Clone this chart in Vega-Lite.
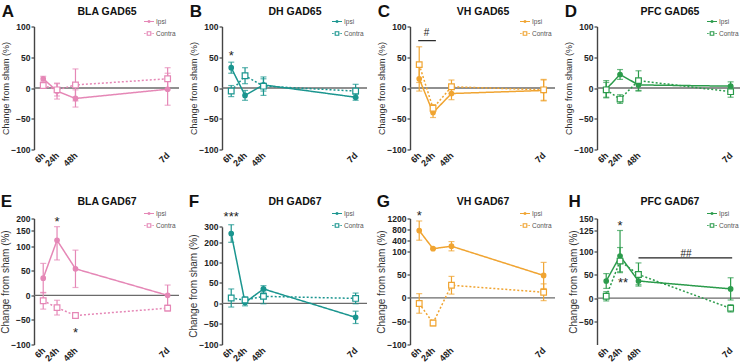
{
"$schema": "https://vega.github.io/schema/vega-lite/v6.json",
"background": "white",
"padding": {"left": 0, "top": 2.5, "right": 0, "bottom": 0},
"config": {
  "font": "Liberation Sans",
  "view": {"stroke": null},
  "title": {"font": "Liberation Sans", "color": "#111"},
  "axis": {"labelFont": "Liberation Sans", "labelFontWeight": "bold", "labelFontSize": 8.5, "labelColor": "#222", "grid": false, "domainColor": "#444", "tickColor": "#444", "domainWidth": 1.4, "tickWidth": 1.2, "tickSize": 3, "labelPadding": 1, "titleFont": "Liberation Sans", "titleFontWeight": "normal", "titleColor": "#333", "titlePadding": 0},
  "legend": {"labelFont": "Liberation Sans"}
},
"datasets": {
  "gad": [
    {"p":"A","s":"Ipsi","t":6,"m":15,"e":4},{"p":"A","s":"Ipsi","t":24,"m":-5,"e":13},{"p":"A","s":"Ipsi","t":48,"m":-17,"e":14},{"p":"A","s":"Ipsi","t":168,"m":-2,"e":26},
    {"p":"A","s":"Contra","t":6,"m":4,"e":3},{"p":"A","s":"Contra","t":24,"m":-3,"e":10},{"p":"A","s":"Contra","t":48,"m":5,"e":26},{"p":"A","s":"Contra","t":168,"m":15,"e":18},
    {"p":"B","s":"Ipsi","t":6,"m":33,"e":9},{"p":"B","s":"Ipsi","t":24,"m":-12,"e":8},{"p":"B","s":"Ipsi","t":48,"m":5,"e":10},{"p":"B","s":"Ipsi","t":168,"m":-15,"e":5},
    {"p":"B","s":"Contra","t":6,"m":-5,"e":9},{"p":"B","s":"Contra","t":24,"m":20,"e":13},{"p":"B","s":"Contra","t":48,"m":3,"e":15},{"p":"B","s":"Contra","t":168,"m":-5,"e":11},
    {"p":"C","s":"Ipsi","t":6,"m":15,"e":20},{"p":"C","s":"Ipsi","t":24,"m":-40,"e":8},{"p":"C","s":"Ipsi","t":48,"m":-9,"e":10},{"p":"C","s":"Ipsi","t":168,"m":-4,"e":17},
    {"p":"C","s":"Contra","t":6,"m":38,"e":29},{"p":"C","s":"Contra","t":24,"m":-33,"e":6},{"p":"C","s":"Contra","t":48,"m":2,"e":11},{"p":"C","s":"Contra","t":168,"m":-3,"e":17},
    {"p":"D","s":"Ipsi","t":6,"m":-2,"e":14},{"p":"D","s":"Ipsi","t":24,"m":22,"e":8},{"p":"D","s":"Ipsi","t":48,"m":5,"e":10},{"p":"D","s":"Ipsi","t":168,"m":3,"e":7},
    {"p":"D","s":"Contra","t":6,"m":-3,"e":12},{"p":"D","s":"Contra","t":24,"m":-18,"e":7},{"p":"D","s":"Contra","t":48,"m":12,"e":16},{"p":"D","s":"Contra","t":168,"m":-6,"e":9},
    {"p":"E","s":"Ipsi","t":6,"m":35,"e":30},{"p":"E","s":"Ipsi","t":24,"m":119,"e":47},{"p":"E","s":"Ipsi","t":48,"m":54,"e":38},{"p":"E","s":"Ipsi","t":168,"m":0,"e":21},
    {"p":"E","s":"Contra","t":6,"m":-11,"e":17},{"p":"E","s":"Contra","t":24,"m":-25,"e":15},{"p":"E","s":"Contra","t":48,"m":-41,"e":4},{"p":"E","s":"Contra","t":168,"m":-26,"e":6},
    {"p":"F","s":"Ipsi","t":6,"m":258,"e":55},{"p":"F","s":"Ipsi","t":24,"m":2,"e":8},{"p":"F","s":"Ipsi","t":48,"m":35,"e":8},{"p":"F","s":"Ipsi","t":168,"m":-34,"e":15},
    {"p":"F","s":"Contra","t":6,"m":13,"e":22},{"p":"F","s":"Contra","t":24,"m":8,"e":8},{"p":"F","s":"Contra","t":48,"m":17,"e":18},{"p":"F","s":"Contra","t":168,"m":12,"e":13},
    {"p":"G","s":"Ipsi","t":6,"m":760,"e":350},{"p":"G","s":"Ipsi","t":24,"m":170,"e":15},{"p":"G","s":"Ipsi","t":48,"m":240,"e":130},{"p":"G","s":"Ipsi","t":168,"m":48,"e":28},
    {"p":"G","s":"Contra","t":6,"m":-12,"e":21},{"p":"G","s":"Contra","t":24,"m":-54,"e":6},{"p":"G","s":"Contra","t":48,"m":27,"e":19},{"p":"G","s":"Contra","t":168,"m":12,"e":18},
    {"p":"H","s":"Ipsi","t":6,"m":37,"e":16},{"p":"H","s":"Ipsi","t":24,"m":91,"e":34},{"p":"H","s":"Ipsi","t":48,"m":37,"e":8},{"p":"H","s":"Ipsi","t":168,"m":20,"e":24},
    {"p":"H","s":"Contra","t":6,"m":4,"e":10},{"p":"H","s":"Contra","t":24,"m":80,"e":25},{"p":"H","s":"Contra","t":48,"m":51,"e":25},{"p":"H","s":"Contra","t":168,"m":-22,"e":8}
  ],
  "ann": [
    {"p":"B","t":6,"m":57,"label":"*"},
    {"p":"C","t":15.6,"m":89,"label":"#"},
    {"p":"E","t":24,"m":196,"label":"*"},
    {"p":"E","t":48,"m":-70,"label":"*"},
    {"p":"F","t":6,"m":377,"label":"***"},
    {"p":"G","t":6,"m":1400,"label":"*"},
    {"p":"H","t":24,"m":141,"label":"*"},
    {"p":"H","t":28,"m":40,"label":"**"},
    {"p":"H","t":110,"m":101.5,"label":"##"}
  ],
  "bars": [
    {"p":"C","t":4.7,"t2":27.7,"m":77},
    {"p":"H","t":48,"t2":170,"m":87}
  ]
},
"columns": 4,
"spacing": {"row": 24, "column": 8},
"resolve": {"scale": {"shape": "independent"}, "legend": {"shape": "independent"}},
"concat": [
{
  "width": 145, "height": 123,
  "title": {"text": "A", "anchor": "start", "frame": "bounds", "fontSize": 17, "fontWeight": "bold", "offset": -14},
  "resolve": {"axis": {"x": "independent"}},
  "layer": [
   {"data": {"values": [{}]}, "mark": {"type": "rule", "color": "#6b6b6b", "strokeWidth": 1.4}, "encoding": {"y": {"datum": 0, "type": "quantitative", "axis": {"values": [-100, -50, 0, 50, 100], "title": "Change from sham (%)", "titleFontSize": 9, "labelOverlap": false}}}},
   {"data": {"name": "gad"}, "transform": [{"filter": "datum.p === 'A'"}], "mark": {"type": "errorbar", "color": "#e587b6", "thickness": 1.2, "ticks": {"size": 6, "color": "#e587b6"}, "rule": {"color": "#e587b6"}}, "encoding": {"x": {"field": "t", "type": "quantitative", "axis": null}, "y": {"field": "m", "type": "quantitative", "axis": {"values": [-100, -50, 0, 50, 100], "title": "Change from sham (%)", "titleFontSize": 9, "labelOverlap": false}}, "yError": {"field": "e"}}},
   {"data": {"name": "gad"}, "transform": [{"filter": "datum.p === 'A'"}], "mark": {"type": "line", "color": "#e587b6", "strokeWidth": 1.5},
    "encoding": {
     "x": {"field": "t", "type": "quantitative", "scale": {"domain": [-6, 182.8], "nice": false, "zero": false}, "axis": {"values": [6, 24, 48, 168], "labelExpr": "datum.value === 168 ? '7d' : datum.value + 'h'", "title": null, "labelAngle": -45, "labelAlign": "right", "labelBaseline": "middle", "labelPadding": 4, "domain": false, "ticks": false, "labelFontSize": 9, "labelOverlap": false}},
     "y": {"field": "m", "type": "quantitative", "scale": {"domain": [-100, 100], "nice": false, "zero": false}, "axis": {"values": [-100, -50, 0, 50, 100], "title": "Change from sham (%)", "titleFontSize": 9, "labelOverlap": false}},
     "detail": {"field": "s"},
     "strokeDash": {"condition": {"test": "datum.s === 'Contra'", "value": [2, 2]}, "value": [1, 0]}}},
   {"data": {"name": "gad"}, "transform": [{"filter": "datum.p === 'A'"}], "mark": {"type": "point", "filled": true, "stroke": "#e587b6", "strokeWidth": 1.2, "opacity": 1},
    "encoding": {
     "x": {"field": "t", "type": "quantitative", "axis": {"orient": "top", "title": "BLA GAD65", "labels": false, "ticks": false, "domain": false, "titleFontSize": 10.5, "titleFontWeight": "bold", "titleColor": "#111", "titlePadding": 10}},
     "y": {"field": "m", "type": "quantitative", "axis": {"values": [-100, -50, 0, 50, 100], "title": "Change from sham (%)", "titleFontSize": 9, "labelOverlap": false}},
     "fill": {"condition": {"test": "datum.s === 'Ipsi'", "value": "#e587b6"}, "value": "white"},
     "size": {"condition": {"test": "datum.s === 'Ipsi'", "value": 20}, "value": 32},
     "shape": {"condition": {"test": "datum.s === 'Ipsi'", "value": "circle"}, "value": "square"}}},
   {"data": {"name": "gad"}, "transform": [{"filter": "datum.p === 'A'"}], "mark": {"type": "point", "filled": false, "color": "#e587b6", "opacity": 0},
    "encoding": {
     "x": {"field": "t", "type": "quantitative", "axis": null},
     "y": {"field": "m", "type": "quantitative", "axis": {"values": [-100, -50, 0, 50, 100], "title": "Change from sham (%)", "titleFontSize": 9, "labelOverlap": false}},
     "shape": {"field": "s", "type": "nominal", "scale": {"domain": ["Ipsi", "Contra"], "range": ["M-1.25,0L1.25,0M0.25,0A0.25,0.25,0,1,1,-0.25,0A0.25,0.25,0,1,1,0.25,0", "M-1.25,0L-1.05,0M-0.9,0L-0.7,0M-0.45,-0.45L0.45,-0.45L0.45,0.45L-0.45,0.45ZM0.7,0L0.9,0M1.05,0L1.25,0"]},
      "legend": {"title": null, "orient": "none", "legendX": 110, "legendY": -10, "padding": 0, "rowPadding": 3, "labelFontSize": 6.5, "labelColor": "#555", "labelOffset": 2, "symbolSize": 64, "symbolOpacity": 1, "symbolStrokeColor": "#e587b6", "symbolStrokeWidth": 1.1, "symbolFillColor": "white"}}}}
  ]
},
{
  "width": 145, "height": 123,
  "title": {"text": "B", "anchor": "start", "frame": "bounds", "fontSize": 17, "fontWeight": "bold", "offset": -14},
  "resolve": {"axis": {"x": "independent"}},
  "layer": [
   {"data": {"values": [{}]}, "mark": {"type": "rule", "color": "#6b6b6b", "strokeWidth": 1.4}, "encoding": {"y": {"datum": 0, "type": "quantitative", "axis": {"values": [-100, -50, 0, 50, 100], "title": "Change from sham (%)", "titleFontSize": 9, "labelOverlap": false}}}},
   {"data": {"name": "gad"}, "transform": [{"filter": "datum.p === 'B'"}], "mark": {"type": "errorbar", "color": "#1a958f", "thickness": 1.2, "ticks": {"size": 6, "color": "#1a958f"}, "rule": {"color": "#1a958f"}}, "encoding": {"x": {"field": "t", "type": "quantitative", "axis": null}, "y": {"field": "m", "type": "quantitative", "axis": {"values": [-100, -50, 0, 50, 100], "title": "Change from sham (%)", "titleFontSize": 9, "labelOverlap": false}}, "yError": {"field": "e"}}},
   {"data": {"name": "gad"}, "transform": [{"filter": "datum.p === 'B'"}], "mark": {"type": "line", "color": "#1a958f", "strokeWidth": 1.5},
    "encoding": {
     "x": {"field": "t", "type": "quantitative", "scale": {"domain": [-6, 182.8], "nice": false, "zero": false}, "axis": {"values": [6, 24, 48, 168], "labelExpr": "datum.value === 168 ? '7d' : datum.value + 'h'", "title": null, "labelAngle": -45, "labelAlign": "right", "labelBaseline": "middle", "labelPadding": 4, "domain": false, "ticks": false, "labelFontSize": 9, "labelOverlap": false}},
     "y": {"field": "m", "type": "quantitative", "scale": {"domain": [-100, 100], "nice": false, "zero": false}, "axis": {"values": [-100, -50, 0, 50, 100], "title": "Change from sham (%)", "titleFontSize": 9, "labelOverlap": false}},
     "detail": {"field": "s"},
     "strokeDash": {"condition": {"test": "datum.s === 'Contra'", "value": [2, 2]}, "value": [1, 0]}}},
   {"data": {"name": "gad"}, "transform": [{"filter": "datum.p === 'B'"}], "mark": {"type": "point", "filled": true, "stroke": "#1a958f", "strokeWidth": 1.2, "opacity": 1},
    "encoding": {
     "x": {"field": "t", "type": "quantitative", "axis": {"orient": "top", "title": "DH GAD65", "labels": false, "ticks": false, "domain": false, "titleFontSize": 10.5, "titleFontWeight": "bold", "titleColor": "#111", "titlePadding": 10}},
     "y": {"field": "m", "type": "quantitative", "axis": {"values": [-100, -50, 0, 50, 100], "title": "Change from sham (%)", "titleFontSize": 9, "labelOverlap": false}},
     "fill": {"condition": {"test": "datum.s === 'Ipsi'", "value": "#1a958f"}, "value": "white"},
     "size": {"condition": {"test": "datum.s === 'Ipsi'", "value": 20}, "value": 32},
     "shape": {"condition": {"test": "datum.s === 'Ipsi'", "value": "circle"}, "value": "square"}}},
   {"data": {"name": "gad"}, "transform": [{"filter": "datum.p === 'B'"}], "mark": {"type": "point", "filled": false, "color": "#1a958f", "opacity": 0},
    "encoding": {
     "x": {"field": "t", "type": "quantitative", "axis": null},
     "y": {"field": "m", "type": "quantitative", "axis": {"values": [-100, -50, 0, 50, 100], "title": "Change from sham (%)", "titleFontSize": 9, "labelOverlap": false}},
     "shape": {"field": "s", "type": "nominal", "scale": {"domain": ["Ipsi", "Contra"], "range": ["M-1.25,0L1.25,0M0.25,0A0.25,0.25,0,1,1,-0.25,0A0.25,0.25,0,1,1,0.25,0", "M-1.25,0L-1.05,0M-0.9,0L-0.7,0M-0.45,-0.45L0.45,-0.45L0.45,0.45L-0.45,0.45ZM0.7,0L0.9,0M1.05,0L1.25,0"]},
      "legend": {"title": null, "orient": "none", "legendX": 110, "legendY": -10, "padding": 0, "rowPadding": 3, "labelFontSize": 6.5, "labelColor": "#555", "labelOffset": 2, "symbolSize": 64, "symbolOpacity": 1, "symbolStrokeColor": "#1a958f", "symbolStrokeWidth": 1.1, "symbolFillColor": "white"}}}},
   {"data": {"name": "ann"}, "transform": [{"filter": "datum.p === 'B'"}], "mark": {"type": "text", "color": "#222", "baseline": "middle", "dy": 3, "fontSize": 13}, "encoding": {"x": {"field": "t", "type": "quantitative", "axis": null}, "y": {"field": "m", "type": "quantitative", "axis": {"values": [-100, -50, 0, 50, 100], "title": "Change from sham (%)", "titleFontSize": 9, "labelOverlap": false}}, "text": {"field": "label"}}}
  ]
},
{
  "width": 145, "height": 123,
  "title": {"text": "C", "anchor": "start", "frame": "bounds", "fontSize": 17, "fontWeight": "bold", "offset": -14},
  "resolve": {"axis": {"x": "independent"}},
  "layer": [
   {"data": {"values": [{}]}, "mark": {"type": "rule", "color": "#6b6b6b", "strokeWidth": 1.4}, "encoding": {"y": {"datum": 0, "type": "quantitative", "axis": {"values": [-100, -50, 0, 50, 100], "title": "Change from sham (%)", "titleFontSize": 9, "labelOverlap": false}}}},
   {"data": {"name": "bars"}, "transform": [{"filter": "datum.p === 'C'"}], "mark": {"type": "rule", "color": "#222", "strokeWidth": 1.2}, "encoding": {"x": {"field": "t", "type": "quantitative", "axis": null}, "x2": {"field": "t2"}, "y": {"field": "m", "type": "quantitative", "axis": {"values": [-100, -50, 0, 50, 100], "title": "Change from sham (%)", "titleFontSize": 9, "labelOverlap": false}}}},
   {"data": {"name": "gad"}, "transform": [{"filter": "datum.p === 'C'"}], "mark": {"type": "errorbar", "color": "#f0a431", "thickness": 1.2, "ticks": {"size": 6, "color": "#f0a431"}, "rule": {"color": "#f0a431"}}, "encoding": {"x": {"field": "t", "type": "quantitative", "axis": null}, "y": {"field": "m", "type": "quantitative", "axis": {"values": [-100, -50, 0, 50, 100], "title": "Change from sham (%)", "titleFontSize": 9, "labelOverlap": false}}, "yError": {"field": "e"}}},
   {"data": {"name": "gad"}, "transform": [{"filter": "datum.p === 'C'"}], "mark": {"type": "line", "color": "#f0a431", "strokeWidth": 1.5},
    "encoding": {
     "x": {"field": "t", "type": "quantitative", "scale": {"domain": [-6, 182.8], "nice": false, "zero": false}, "axis": {"values": [6, 24, 48, 168], "labelExpr": "datum.value === 168 ? '7d' : datum.value + 'h'", "title": null, "labelAngle": -45, "labelAlign": "right", "labelBaseline": "middle", "labelPadding": 4, "domain": false, "ticks": false, "labelFontSize": 9, "labelOverlap": false}},
     "y": {"field": "m", "type": "quantitative", "scale": {"domain": [-100, 100], "nice": false, "zero": false}, "axis": {"values": [-100, -50, 0, 50, 100], "title": "Change from sham (%)", "titleFontSize": 9, "labelOverlap": false}},
     "detail": {"field": "s"},
     "strokeDash": {"condition": {"test": "datum.s === 'Contra'", "value": [2, 2]}, "value": [1, 0]}}},
   {"data": {"name": "gad"}, "transform": [{"filter": "datum.p === 'C'"}], "mark": {"type": "point", "filled": true, "stroke": "#f0a431", "strokeWidth": 1.2, "opacity": 1},
    "encoding": {
     "x": {"field": "t", "type": "quantitative", "axis": {"orient": "top", "title": "VH GAD65", "labels": false, "ticks": false, "domain": false, "titleFontSize": 10.5, "titleFontWeight": "bold", "titleColor": "#111", "titlePadding": 10}},
     "y": {"field": "m", "type": "quantitative", "axis": {"values": [-100, -50, 0, 50, 100], "title": "Change from sham (%)", "titleFontSize": 9, "labelOverlap": false}},
     "fill": {"condition": {"test": "datum.s === 'Ipsi'", "value": "#f0a431"}, "value": "white"},
     "size": {"condition": {"test": "datum.s === 'Ipsi'", "value": 20}, "value": 32},
     "shape": {"condition": {"test": "datum.s === 'Ipsi'", "value": "circle"}, "value": "square"}}},
   {"data": {"name": "gad"}, "transform": [{"filter": "datum.p === 'C'"}], "mark": {"type": "point", "filled": false, "color": "#f0a431", "opacity": 0},
    "encoding": {
     "x": {"field": "t", "type": "quantitative", "axis": null},
     "y": {"field": "m", "type": "quantitative", "axis": {"values": [-100, -50, 0, 50, 100], "title": "Change from sham (%)", "titleFontSize": 9, "labelOverlap": false}},
     "shape": {"field": "s", "type": "nominal", "scale": {"domain": ["Ipsi", "Contra"], "range": ["M-1.25,0L1.25,0M0.25,0A0.25,0.25,0,1,1,-0.25,0A0.25,0.25,0,1,1,0.25,0", "M-1.25,0L-1.05,0M-0.9,0L-0.7,0M-0.45,-0.45L0.45,-0.45L0.45,0.45L-0.45,0.45ZM0.7,0L0.9,0M1.05,0L1.25,0"]},
      "legend": {"title": null, "orient": "none", "legendX": 110, "legendY": -10, "padding": 0, "rowPadding": 3, "labelFontSize": 6.5, "labelColor": "#555", "labelOffset": 2, "symbolSize": 64, "symbolOpacity": 1, "symbolStrokeColor": "#f0a431", "symbolStrokeWidth": 1.1, "symbolFillColor": "white"}}}},
   {"data": {"name": "ann"}, "transform": [{"filter": "datum.p === 'C'"}], "mark": {"type": "text", "color": "#222", "baseline": "middle", "dy": 0, "fontSize": 10}, "encoding": {"x": {"field": "t", "type": "quantitative", "axis": null}, "y": {"field": "m", "type": "quantitative", "axis": {"values": [-100, -50, 0, 50, 100], "title": "Change from sham (%)", "titleFontSize": 9, "labelOverlap": false}}, "text": {"field": "label"}}}
  ]
},
{
  "width": 145, "height": 123,
  "title": {"text": "D", "anchor": "start", "frame": "bounds", "fontSize": 17, "fontWeight": "bold", "offset": -14},
  "resolve": {"axis": {"x": "independent"}},
  "layer": [
   {"data": {"values": [{}]}, "mark": {"type": "rule", "color": "#6b6b6b", "strokeWidth": 1.4}, "encoding": {"y": {"datum": 0, "type": "quantitative", "axis": {"values": [-100, -50, 0, 50, 100], "title": "Change from sham (%)", "titleFontSize": 9, "labelOverlap": false}}}},
   {"data": {"name": "gad"}, "transform": [{"filter": "datum.p === 'D'"}], "mark": {"type": "errorbar", "color": "#2b9b4b", "thickness": 1.2, "ticks": {"size": 6, "color": "#2b9b4b"}, "rule": {"color": "#2b9b4b"}}, "encoding": {"x": {"field": "t", "type": "quantitative", "axis": null}, "y": {"field": "m", "type": "quantitative", "axis": {"values": [-100, -50, 0, 50, 100], "title": "Change from sham (%)", "titleFontSize": 9, "labelOverlap": false}}, "yError": {"field": "e"}}},
   {"data": {"name": "gad"}, "transform": [{"filter": "datum.p === 'D'"}], "mark": {"type": "line", "color": "#2b9b4b", "strokeWidth": 1.5},
    "encoding": {
     "x": {"field": "t", "type": "quantitative", "scale": {"domain": [-6, 182.8], "nice": false, "zero": false}, "axis": {"values": [6, 24, 48, 168], "labelExpr": "datum.value === 168 ? '7d' : datum.value + 'h'", "title": null, "labelAngle": -45, "labelAlign": "right", "labelBaseline": "middle", "labelPadding": 4, "domain": false, "ticks": false, "labelFontSize": 9, "labelOverlap": false}},
     "y": {"field": "m", "type": "quantitative", "scale": {"domain": [-100, 100], "nice": false, "zero": false}, "axis": {"values": [-100, -50, 0, 50, 100], "title": "Change from sham (%)", "titleFontSize": 9, "labelOverlap": false}},
     "detail": {"field": "s"},
     "strokeDash": {"condition": {"test": "datum.s === 'Contra'", "value": [2, 2]}, "value": [1, 0]}}},
   {"data": {"name": "gad"}, "transform": [{"filter": "datum.p === 'D'"}], "mark": {"type": "point", "filled": true, "stroke": "#2b9b4b", "strokeWidth": 1.2, "opacity": 1},
    "encoding": {
     "x": {"field": "t", "type": "quantitative", "axis": {"orient": "top", "title": "PFC GAD65", "labels": false, "ticks": false, "domain": false, "titleFontSize": 10.5, "titleFontWeight": "bold", "titleColor": "#111", "titlePadding": 10}},
     "y": {"field": "m", "type": "quantitative", "axis": {"values": [-100, -50, 0, 50, 100], "title": "Change from sham (%)", "titleFontSize": 9, "labelOverlap": false}},
     "fill": {"condition": {"test": "datum.s === 'Ipsi'", "value": "#2b9b4b"}, "value": "white"},
     "size": {"condition": {"test": "datum.s === 'Ipsi'", "value": 20}, "value": 32},
     "shape": {"condition": {"test": "datum.s === 'Ipsi'", "value": "circle"}, "value": "square"}}},
   {"data": {"name": "gad"}, "transform": [{"filter": "datum.p === 'D'"}], "mark": {"type": "point", "filled": false, "color": "#2b9b4b", "opacity": 0},
    "encoding": {
     "x": {"field": "t", "type": "quantitative", "axis": null},
     "y": {"field": "m", "type": "quantitative", "axis": {"values": [-100, -50, 0, 50, 100], "title": "Change from sham (%)", "titleFontSize": 9, "labelOverlap": false}},
     "shape": {"field": "s", "type": "nominal", "scale": {"domain": ["Ipsi", "Contra"], "range": ["M-1.25,0L1.25,0M0.25,0A0.25,0.25,0,1,1,-0.25,0A0.25,0.25,0,1,1,0.25,0", "M-1.25,0L-1.05,0M-0.9,0L-0.7,0M-0.45,-0.45L0.45,-0.45L0.45,0.45L-0.45,0.45ZM0.7,0L0.9,0M1.05,0L1.25,0"]},
      "legend": {"title": null, "orient": "none", "legendX": 110, "legendY": -10, "padding": 0, "rowPadding": 3, "labelFontSize": 6.5, "labelColor": "#555", "labelOffset": 2, "symbolSize": 64, "symbolOpacity": 1, "symbolStrokeColor": "#2b9b4b", "symbolStrokeWidth": 1.1, "symbolFillColor": "white"}}}}
  ]
},
{
  "width": 145, "height": 126,
  "title": {"text": "E", "anchor": "start", "frame": "bounds", "fontSize": 17, "fontWeight": "bold", "offset": -14},
  "resolve": {"axis": {"x": "independent"}},
  "layer": [
   {"data": {"values": [{}]}, "mark": {"type": "rule", "color": "#6b6b6b", "strokeWidth": 1.4}, "encoding": {"y": {"datum": 0, "type": "quantitative", "axis": {"values": [-100, -50, 0, 50, 100, 150, 200], "title": "Change from sham (%)", "titleFontSize": 10, "labelOverlap": false}}}},
   {"data": {"name": "gad"}, "transform": [{"filter": "datum.p === 'E'"}], "mark": {"type": "errorbar", "color": "#e587b6", "thickness": 1.2, "ticks": {"size": 6, "color": "#e587b6"}, "rule": {"color": "#e587b6"}}, "encoding": {"x": {"field": "t", "type": "quantitative", "axis": null}, "y": {"field": "m", "type": "quantitative", "axis": {"values": [-100, -50, 0, 50, 100, 150, 200], "title": "Change from sham (%)", "titleFontSize": 10, "labelOverlap": false}}, "yError": {"field": "e"}}},
   {"data": {"name": "gad"}, "transform": [{"filter": "datum.p === 'E'"}], "mark": {"type": "line", "color": "#e587b6", "strokeWidth": 1.5},
    "encoding": {
     "x": {"field": "t", "type": "quantitative", "scale": {"domain": [-6, 182.8], "nice": false, "zero": false}, "axis": {"values": [6, 24, 48, 168], "labelExpr": "datum.value === 168 ? '7d' : datum.value + 'h'", "title": null, "labelAngle": -45, "labelAlign": "right", "labelBaseline": "middle", "labelPadding": 4, "domain": false, "ticks": false, "labelFontSize": 9, "labelOverlap": false}},
     "y": {"field": "m", "type": "quantitative", "scale": {"domain": [-100, 100, 150, 200], "range": [126, 27.7, 12, 0], "nice": false, "zero": false}, "axis": {"values": [-100, -50, 0, 50, 100, 150, 200], "title": "Change from sham (%)", "titleFontSize": 10, "labelOverlap": false}},
     "detail": {"field": "s"},
     "strokeDash": {"condition": {"test": "datum.s === 'Contra'", "value": [2, 2]}, "value": [1, 0]}}},
   {"data": {"name": "gad"}, "transform": [{"filter": "datum.p === 'E'"}], "mark": {"type": "point", "filled": true, "stroke": "#e587b6", "strokeWidth": 1.2, "opacity": 1},
    "encoding": {
     "x": {"field": "t", "type": "quantitative", "axis": {"orient": "top", "title": "BLA GAD67", "labels": false, "ticks": false, "domain": false, "titleFontSize": 10.5, "titleFontWeight": "bold", "titleColor": "#111", "titlePadding": 12}},
     "y": {"field": "m", "type": "quantitative", "axis": {"values": [-100, -50, 0, 50, 100, 150, 200], "title": "Change from sham (%)", "titleFontSize": 10, "labelOverlap": false}},
     "fill": {"condition": {"test": "datum.s === 'Ipsi'", "value": "#e587b6"}, "value": "white"},
     "size": {"condition": {"test": "datum.s === 'Ipsi'", "value": 20}, "value": 32},
     "shape": {"condition": {"test": "datum.s === 'Ipsi'", "value": "circle"}, "value": "square"}}},
   {"data": {"name": "gad"}, "transform": [{"filter": "datum.p === 'E'"}], "mark": {"type": "point", "filled": false, "color": "#e587b6", "opacity": 0},
    "encoding": {
     "x": {"field": "t", "type": "quantitative", "axis": null},
     "y": {"field": "m", "type": "quantitative", "axis": {"values": [-100, -50, 0, 50, 100, 150, 200], "title": "Change from sham (%)", "titleFontSize": 10, "labelOverlap": false}},
     "shape": {"field": "s", "type": "nominal", "scale": {"domain": ["Ipsi", "Contra"], "range": ["M-1.25,0L1.25,0M0.25,0A0.25,0.25,0,1,1,-0.25,0A0.25,0.25,0,1,1,0.25,0", "M-1.25,0L-1.05,0M-0.9,0L-0.7,0M-0.45,-0.45L0.45,-0.45L0.45,0.45L-0.45,0.45ZM0.7,0L0.9,0M1.05,0L1.25,0"]},
      "legend": {"title": null, "orient": "none", "legendX": 110, "legendY": -10, "padding": 0, "rowPadding": 3, "labelFontSize": 6.5, "labelColor": "#555", "labelOffset": 2, "symbolSize": 64, "symbolOpacity": 1, "symbolStrokeColor": "#e587b6", "symbolStrokeWidth": 1.1, "symbolFillColor": "white"}}}},
   {"data": {"name": "ann"}, "transform": [{"filter": "datum.p === 'E'"}], "mark": {"type": "text", "color": "#222", "baseline": "middle", "dy": 3, "fontSize": 13}, "encoding": {"x": {"field": "t", "type": "quantitative", "axis": null}, "y": {"field": "m", "type": "quantitative", "axis": {"values": [-100, -50, 0, 50, 100, 150, 200], "title": "Change from sham (%)", "titleFontSize": 10, "labelOverlap": false}}, "text": {"field": "label"}}}
  ]
},
{
  "width": 145, "height": 126,
  "title": {"text": "F", "anchor": "start", "frame": "bounds", "fontSize": 17, "fontWeight": "bold", "offset": -14},
  "resolve": {"axis": {"x": "independent"}},
  "layer": [
   {"data": {"values": [{}]}, "mark": {"type": "rule", "color": "#6b6b6b", "strokeWidth": 1.4}, "encoding": {"y": {"datum": 0, "type": "quantitative", "axis": {"values": [-100, -50, 0, 50, 100, 200, 300], "title": "Change from sham (%)", "titleFontSize": 10, "labelOverlap": false}}}},
   {"data": {"name": "gad"}, "transform": [{"filter": "datum.p === 'F'"}], "mark": {"type": "errorbar", "color": "#1a958f", "thickness": 1.2, "ticks": {"size": 6, "color": "#1a958f"}, "rule": {"color": "#1a958f"}}, "encoding": {"x": {"field": "t", "type": "quantitative", "axis": null}, "y": {"field": "m", "type": "quantitative", "axis": {"values": [-100, -50, 0, 50, 100, 200, 300], "title": "Change from sham (%)", "titleFontSize": 10, "labelOverlap": false}}, "yError": {"field": "e"}}},
   {"data": {"name": "gad"}, "transform": [{"filter": "datum.p === 'F'"}], "mark": {"type": "line", "color": "#1a958f", "strokeWidth": 1.5},
    "encoding": {
     "x": {"field": "t", "type": "quantitative", "scale": {"domain": [-6, 182.8], "nice": false, "zero": false}, "axis": {"values": [6, 24, 48, 168], "labelExpr": "datum.value === 168 ? '7d' : datum.value + 'h'", "title": null, "labelAngle": -45, "labelAlign": "right", "labelBaseline": "middle", "labelPadding": 4, "domain": false, "ticks": false, "labelFontSize": 9, "labelOverlap": false}},
     "y": {"field": "m", "type": "quantitative", "scale": {"domain": [-100, 100, 200, 300], "range": [126, 43.7, 24.3, 8.3], "nice": false, "zero": false}, "axis": {"values": [-100, -50, 0, 50, 100, 200, 300], "title": "Change from sham (%)", "titleFontSize": 10, "labelOverlap": false}},
     "detail": {"field": "s"},
     "strokeDash": {"condition": {"test": "datum.s === 'Contra'", "value": [2, 2]}, "value": [1, 0]}}},
   {"data": {"name": "gad"}, "transform": [{"filter": "datum.p === 'F'"}], "mark": {"type": "point", "filled": true, "stroke": "#1a958f", "strokeWidth": 1.2, "opacity": 1},
    "encoding": {
     "x": {"field": "t", "type": "quantitative", "axis": {"orient": "top", "title": "DH GAD67", "labels": false, "ticks": false, "domain": false, "titleFontSize": 10.5, "titleFontWeight": "bold", "titleColor": "#111", "titlePadding": 12}},
     "y": {"field": "m", "type": "quantitative", "axis": {"values": [-100, -50, 0, 50, 100, 200, 300], "title": "Change from sham (%)", "titleFontSize": 10, "labelOverlap": false}},
     "fill": {"condition": {"test": "datum.s === 'Ipsi'", "value": "#1a958f"}, "value": "white"},
     "size": {"condition": {"test": "datum.s === 'Ipsi'", "value": 20}, "value": 32},
     "shape": {"condition": {"test": "datum.s === 'Ipsi'", "value": "circle"}, "value": "square"}}},
   {"data": {"name": "gad"}, "transform": [{"filter": "datum.p === 'F'"}], "mark": {"type": "point", "filled": false, "color": "#1a958f", "opacity": 0},
    "encoding": {
     "x": {"field": "t", "type": "quantitative", "axis": null},
     "y": {"field": "m", "type": "quantitative", "axis": {"values": [-100, -50, 0, 50, 100, 200, 300], "title": "Change from sham (%)", "titleFontSize": 10, "labelOverlap": false}},
     "shape": {"field": "s", "type": "nominal", "scale": {"domain": ["Ipsi", "Contra"], "range": ["M-1.25,0L1.25,0M0.25,0A0.25,0.25,0,1,1,-0.25,0A0.25,0.25,0,1,1,0.25,0", "M-1.25,0L-1.05,0M-0.9,0L-0.7,0M-0.45,-0.45L0.45,-0.45L0.45,0.45L-0.45,0.45ZM0.7,0L0.9,0M1.05,0L1.25,0"]},
      "legend": {"title": null, "orient": "none", "legendX": 110, "legendY": -10, "padding": 0, "rowPadding": 3, "labelFontSize": 6.5, "labelColor": "#555", "labelOffset": 2, "symbolSize": 64, "symbolOpacity": 1, "symbolStrokeColor": "#1a958f", "symbolStrokeWidth": 1.1, "symbolFillColor": "white"}}}},
   {"data": {"name": "ann"}, "transform": [{"filter": "datum.p === 'F'"}], "mark": {"type": "text", "color": "#222", "baseline": "middle", "dy": 3, "fontSize": 13}, "encoding": {"x": {"field": "t", "type": "quantitative", "axis": null}, "y": {"field": "m", "type": "quantitative", "axis": {"values": [-100, -50, 0, 50, 100, 200, 300], "title": "Change from sham (%)", "titleFontSize": 10, "labelOverlap": false}}, "text": {"field": "label"}}}
  ]
},
{
  "width": 145, "height": 126,
  "title": {"text": "G", "anchor": "start", "frame": "bounds", "fontSize": 17, "fontWeight": "bold", "offset": -14},
  "resolve": {"axis": {"x": "independent"}},
  "layer": [
   {"data": {"values": [{}]}, "mark": {"type": "rule", "color": "#6b6b6b", "strokeWidth": 1.4}, "encoding": {"y": {"datum": 0, "type": "quantitative", "axis": {"values": [-100, -50, 0, 50, 100, 400, 800, 1200], "format": "d", "title": "Change from sham (%)", "titleFontSize": 10, "labelOverlap": false}}}},
   {"data": {"name": "gad"}, "transform": [{"filter": "datum.p === 'G'"}], "mark": {"type": "errorbar", "color": "#f0a431", "thickness": 1.2, "ticks": {"size": 6, "color": "#f0a431"}, "rule": {"color": "#f0a431"}}, "encoding": {"x": {"field": "t", "type": "quantitative", "axis": null}, "y": {"field": "m", "type": "quantitative", "axis": {"values": [-100, -50, 0, 50, 100, 400, 800, 1200], "format": "d", "title": "Change from sham (%)", "titleFontSize": 10, "labelOverlap": false}}, "yError": {"field": "e"}}},
   {"data": {"name": "gad"}, "transform": [{"filter": "datum.p === 'G'"}], "mark": {"type": "line", "color": "#f0a431", "strokeWidth": 1.5},
    "encoding": {
     "x": {"field": "t", "type": "quantitative", "scale": {"domain": [-6, 182.8], "nice": false, "zero": false}, "axis": {"values": [6, 24, 48, 168], "labelExpr": "datum.value === 168 ? '7d' : datum.value + 'h'", "title": null, "labelAngle": -45, "labelAlign": "right", "labelBaseline": "middle", "labelPadding": 4, "domain": false, "ticks": false, "labelFontSize": 9, "labelOverlap": false}},
     "y": {"field": "m", "type": "quantitative", "scale": {"domain": [-100, 100, 400, 1200], "range": [126, 32.7, 22, 0], "nice": false, "zero": false}, "axis": {"values": [-100, -50, 0, 50, 100, 400, 800, 1200], "format": "d", "title": "Change from sham (%)", "titleFontSize": 10, "labelOverlap": false}},
     "detail": {"field": "s"},
     "strokeDash": {"condition": {"test": "datum.s === 'Contra'", "value": [2, 2]}, "value": [1, 0]}}},
   {"data": {"name": "gad"}, "transform": [{"filter": "datum.p === 'G'"}], "mark": {"type": "point", "filled": true, "stroke": "#f0a431", "strokeWidth": 1.2, "opacity": 1},
    "encoding": {
     "x": {"field": "t", "type": "quantitative", "axis": {"orient": "top", "title": "VH GAD67", "labels": false, "ticks": false, "domain": false, "titleFontSize": 10.5, "titleFontWeight": "bold", "titleColor": "#111", "titlePadding": 12}},
     "y": {"field": "m", "type": "quantitative", "axis": {"values": [-100, -50, 0, 50, 100, 400, 800, 1200], "format": "d", "title": "Change from sham (%)", "titleFontSize": 10, "labelOverlap": false}},
     "fill": {"condition": {"test": "datum.s === 'Ipsi'", "value": "#f0a431"}, "value": "white"},
     "size": {"condition": {"test": "datum.s === 'Ipsi'", "value": 20}, "value": 32},
     "shape": {"condition": {"test": "datum.s === 'Ipsi'", "value": "circle"}, "value": "square"}}},
   {"data": {"name": "gad"}, "transform": [{"filter": "datum.p === 'G'"}], "mark": {"type": "point", "filled": false, "color": "#f0a431", "opacity": 0},
    "encoding": {
     "x": {"field": "t", "type": "quantitative", "axis": null},
     "y": {"field": "m", "type": "quantitative", "axis": {"values": [-100, -50, 0, 50, 100, 400, 800, 1200], "format": "d", "title": "Change from sham (%)", "titleFontSize": 10, "labelOverlap": false}},
     "shape": {"field": "s", "type": "nominal", "scale": {"domain": ["Ipsi", "Contra"], "range": ["M-1.25,0L1.25,0M0.25,0A0.25,0.25,0,1,1,-0.25,0A0.25,0.25,0,1,1,0.25,0", "M-1.25,0L-1.05,0M-0.9,0L-0.7,0M-0.45,-0.45L0.45,-0.45L0.45,0.45L-0.45,0.45ZM0.7,0L0.9,0M1.05,0L1.25,0"]},
      "legend": {"title": null, "orient": "none", "legendX": 110, "legendY": -10, "padding": 0, "rowPadding": 3, "labelFontSize": 6.5, "labelColor": "#555", "labelOffset": 2, "symbolSize": 64, "symbolOpacity": 1, "symbolStrokeColor": "#f0a431", "symbolStrokeWidth": 1.1, "symbolFillColor": "white"}}}},
   {"data": {"name": "ann"}, "transform": [{"filter": "datum.p === 'G'"}], "mark": {"type": "text", "color": "#222", "baseline": "middle", "dy": 3, "fontSize": 13}, "encoding": {"x": {"field": "t", "type": "quantitative", "axis": null}, "y": {"field": "m", "type": "quantitative", "axis": {"values": [-100, -50, 0, 50, 100, 400, 800, 1200], "format": "d", "title": "Change from sham (%)", "titleFontSize": 10, "labelOverlap": false}}, "text": {"field": "label"}}}
  ]
},
{
  "width": 145, "height": 126,
  "title": {"text": "H", "anchor": "start", "frame": "bounds", "fontSize": 17, "fontWeight": "bold", "offset": -14},
  "resolve": {"axis": {"x": "independent"}},
  "layer": [
   {"data": {"values": [{}]}, "mark": {"type": "rule", "color": "#6b6b6b", "strokeWidth": 1.4}, "encoding": {"y": {"datum": 0, "type": "quantitative", "axis": {"values": [-50, 0, 50, 100, 125, 150], "title": "Change from sham (%)", "titleFontSize": 10, "labelOverlap": false}}}},
   {"data": {"name": "bars"}, "transform": [{"filter": "datum.p === 'H'"}], "mark": {"type": "rule", "color": "#222", "strokeWidth": 1.2}, "encoding": {"x": {"field": "t", "type": "quantitative", "axis": null}, "x2": {"field": "t2"}, "y": {"field": "m", "type": "quantitative", "axis": {"values": [-50, 0, 50, 100, 125, 150], "title": "Change from sham (%)", "titleFontSize": 10, "labelOverlap": false}}}},
   {"data": {"name": "gad"}, "transform": [{"filter": "datum.p === 'H'"}], "mark": {"type": "errorbar", "color": "#2b9b4b", "thickness": 1.2, "ticks": {"size": 6, "color": "#2b9b4b"}, "rule": {"color": "#2b9b4b"}}, "encoding": {"x": {"field": "t", "type": "quantitative", "axis": null}, "y": {"field": "m", "type": "quantitative", "axis": {"values": [-50, 0, 50, 100, 125, 150], "title": "Change from sham (%)", "titleFontSize": 10, "labelOverlap": false}}, "yError": {"field": "e"}}},
   {"data": {"name": "gad"}, "transform": [{"filter": "datum.p === 'H'"}], "mark": {"type": "line", "color": "#2b9b4b", "strokeWidth": 1.5},
    "encoding": {
     "x": {"field": "t", "type": "quantitative", "scale": {"domain": [-6, 182.8], "nice": false, "zero": false}, "axis": {"values": [6, 24, 48, 168], "labelExpr": "datum.value === 168 ? '7d' : datum.value + 'h'", "title": null, "labelAngle": -45, "labelAlign": "right", "labelBaseline": "middle", "labelPadding": 4, "domain": false, "ticks": false, "labelFontSize": 9, "labelOverlap": false}},
     "y": {"field": "m", "type": "quantitative", "scale": {"domain": [-100, 100, 125, 150], "range": [126, 33.3, 12, 0], "nice": false, "zero": false}, "axis": {"values": [-50, 0, 50, 100, 125, 150], "title": "Change from sham (%)", "titleFontSize": 10, "labelOverlap": false}},
     "detail": {"field": "s"},
     "strokeDash": {"condition": {"test": "datum.s === 'Contra'", "value": [2, 2]}, "value": [1, 0]}}},
   {"data": {"name": "gad"}, "transform": [{"filter": "datum.p === 'H'"}], "mark": {"type": "point", "filled": true, "stroke": "#2b9b4b", "strokeWidth": 1.2, "opacity": 1},
    "encoding": {
     "x": {"field": "t", "type": "quantitative", "axis": {"orient": "top", "title": "PFC GAD67", "labels": false, "ticks": false, "domain": false, "titleFontSize": 10.5, "titleFontWeight": "bold", "titleColor": "#111", "titlePadding": 12}},
     "y": {"field": "m", "type": "quantitative", "axis": {"values": [-50, 0, 50, 100, 125, 150], "title": "Change from sham (%)", "titleFontSize": 10, "labelOverlap": false}},
     "fill": {"condition": {"test": "datum.s === 'Ipsi'", "value": "#2b9b4b"}, "value": "white"},
     "size": {"condition": {"test": "datum.s === 'Ipsi'", "value": 20}, "value": 32},
     "shape": {"condition": {"test": "datum.s === 'Ipsi'", "value": "circle"}, "value": "square"}}},
   {"data": {"name": "gad"}, "transform": [{"filter": "datum.p === 'H'"}], "mark": {"type": "point", "filled": false, "color": "#2b9b4b", "opacity": 0},
    "encoding": {
     "x": {"field": "t", "type": "quantitative", "axis": null},
     "y": {"field": "m", "type": "quantitative", "axis": {"values": [-50, 0, 50, 100, 125, 150], "title": "Change from sham (%)", "titleFontSize": 10, "labelOverlap": false}},
     "shape": {"field": "s", "type": "nominal", "scale": {"domain": ["Ipsi", "Contra"], "range": ["M-1.25,0L1.25,0M0.25,0A0.25,0.25,0,1,1,-0.25,0A0.25,0.25,0,1,1,0.25,0", "M-1.25,0L-1.05,0M-0.9,0L-0.7,0M-0.45,-0.45L0.45,-0.45L0.45,0.45L-0.45,0.45ZM0.7,0L0.9,0M1.05,0L1.25,0"]},
      "legend": {"title": null, "orient": "none", "legendX": 110, "legendY": -10, "padding": 0, "rowPadding": 3, "labelFontSize": 6.5, "labelColor": "#555", "labelOffset": 2, "symbolSize": 64, "symbolOpacity": 1, "symbolStrokeColor": "#2b9b4b", "symbolStrokeWidth": 1.1, "symbolFillColor": "white"}}}},
   {"data": {"name": "ann"}, "transform": [{"filter": "datum.p === 'H'"}], "mark": {"type": "text", "color": "#222", "baseline": "middle", "dy": 3}, "encoding": {"x": {"field": "t", "type": "quantitative", "axis": null}, "y": {"field": "m", "type": "quantitative", "axis": {"values": [-50, 0, 50, 100, 125, 150], "title": "Change from sham (%)", "titleFontSize": 10, "labelOverlap": false}}, "text": {"field": "label"}, "size": {"condition": {"test": "indexof(datum.label, '#') >= 0", "value": 10}, "value": 13}}}
  ]
}
]
}
